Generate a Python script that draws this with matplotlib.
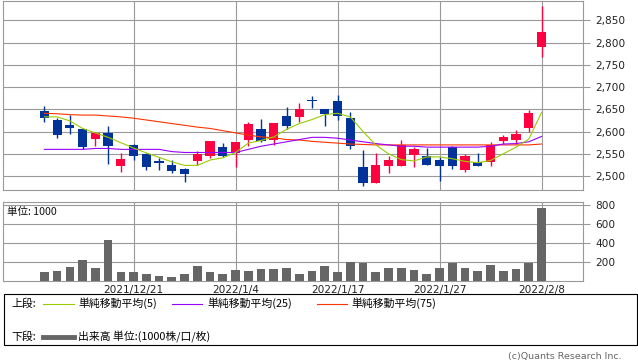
import matplotlib
matplotlib.use("Agg")
import matplotlib.pyplot as plt
from matplotlib.patches import Rectangle
from matplotlib.lines import Line2D

# ---------------- data ----------------
date_ticks = ["2021/12/21", "2022/1/4", "2022/1/17", "2022/1/27", "2022/2/8"]
date_tick_idx = [7, 15, 23, 31, 39]

opens  = [2646, 2626, 2615, 2606, 2584, 2597, 2523, 2570, 2549, 2533,
          2524, 2515, 2534, 2545, 2565, 2551, 2581, 2605, 2582, 2635,
          2632, 2671, 2650, 2669, 2630, 2520, 2484, 2522, 2522, 2547,
          2546, 2535, 2565, 2513, 2532, 2531, 2579, 2582, 2608, 2790]
closes = [2631, 2593, 2609, 2566, 2597, 2568, 2538, 2545, 2521, 2530,
          2512, 2505, 2549, 2578, 2546, 2576, 2617, 2579, 2619, 2613,
          2650, 2669, 2640, 2636, 2567, 2484, 2524, 2535, 2570, 2561,
          2525, 2522, 2522, 2546, 2522, 2570, 2588, 2594, 2641, 2823]
highs  = [2658, 2631, 2637, 2606, 2600, 2612, 2551, 2573, 2552, 2541,
          2535, 2519, 2557, 2578, 2574, 2576, 2621, 2628, 2619, 2655,
          2664, 2680, 2650, 2683, 2643, 2558, 2552, 2545, 2580, 2565,
          2563, 2543, 2567, 2550, 2552, 2576, 2592, 2603, 2648, 2882]
lows   = [2622, 2586, 2595, 2560, 2567, 2528, 2509, 2537, 2513, 2513,
          2506, 2487, 2524, 2540, 2543, 2521, 2568, 2576, 2570, 2606,
          2622, 2653, 2612, 2627, 2561, 2477, 2484, 2507, 2522, 2520,
          2525, 2489, 2516, 2510, 2522, 2522, 2571, 2571, 2598, 2768]
volume = [91, 109, 151, 225, 133, 435, 91, 91, 77, 56,
          46, 77, 161, 98, 77, 119, 109, 130, 130, 140,
          77, 109, 161, 91, 204, 186, 98, 140, 140, 119,
          77, 140, 186, 140, 109, 172, 109, 130, 186, 772]
ma5  = [2633, 2633, 2624, 2607, 2597, 2587, 2575, 2563, 2552, 2542,
        2532, 2524, 2524, 2536, 2541, 2553, 2574, 2580, 2588, 2605,
        2618, 2627, 2638, 2641, 2633, 2600, 2570, 2550, 2537, 2534,
        2543, 2543, 2539, 2533, 2530, 2535, 2550, 2565, 2583, 2643]
ma25 = [2560, 2560, 2560, 2560, 2562, 2562, 2560, 2560, 2560, 2560,
        2555, 2553, 2553, 2553, 2553, 2553, 2560, 2567, 2572, 2577,
        2582, 2587, 2587, 2585, 2581, 2577, 2573, 2570, 2567, 2567,
        2565, 2565, 2565, 2565, 2565, 2567, 2572, 2573, 2577, 2589]
ma75 = [2641, 2640, 2638, 2637, 2637, 2635, 2633, 2630, 2626, 2622,
        2618, 2614, 2610, 2607, 2602, 2597, 2592, 2588, 2586, 2582,
        2581, 2578, 2576, 2574, 2572, 2571, 2570, 2570, 2570, 2570,
        2570, 2570, 2570, 2570, 2570, 2570, 2570, 2570, 2570, 2572]
price_ticks = [2500, 2550, 2600, 2650, 2700, 2750, 2800, 2850]
vol_ticks = [200, 400, 600, 800]

# ---------------- style ----------------
W, H = 638, 362
UP = "#ff0040"
DOWN = "#003399"
C5 = "#99cc00"
C25 = "#9900ff"
C75 = "#ff3300"
GRID = "#999999"
VOL = "#666666"
JP = ["Noto Sans CJK JP", "DejaVu Sans"]
LW = 0.8

fig = plt.figure(figsize=(W / 100, H / 100), dpi=100)


def box(x0, y0, x1, y1):
    return [x0 / W, 1 - y1 / H, (x1 - x0) / W, (y1 - y0) / H]


def style_axes(ax):
    for s in ax.spines.values():
        s.set_color(GRID)
        s.set_linewidth(LW)
    ax.yaxis.tick_right()
    ax.tick_params(axis="y", which="both", direction="out", length=5,
                   width=LW, color=GRID, labelsize=7.6, pad=4,
                   labelcolor="#222222")
    ax.tick_params(axis="x", length=0, labelsize=7.6, labelcolor="#222222")
    ax.set_xlim(-3.22, 42.23)
    ax.set_xticks(date_tick_idx)
    ax.grid(True, color=GRID, linewidth=LW)
    ax.set_axisbelow(True)


x = list(range(len(opens)))

# ---------------- price panel ----------------
ax1 = fig.add_axes(box(3.3, 0.5, 582.7, 190.3))
style_axes(ax1)
ax1.set_ylim(2468, 2894.5)
ax1.set_yticks(price_ticks)
ax1.set_yticklabels([f"{v:,}" for v in price_ticks])
ax1.set_xticklabels([])

for i in x:
    o, c, h, l = opens[i], closes[i], highs[i], lows[i]
    col = UP if c >= o else DOWN
    ax1.vlines(i, l, h, color=col, linewidth=1.0, zorder=3)
    bottom = min(o, c)
    height = max(abs(c - o), 1.5)
    ax1.add_patch(Rectangle((i - 0.36, bottom), 0.72, height,
                            facecolor=col, edgecolor="none", zorder=4))

ax1.plot(x, ma75, color=C75, linewidth=LW, zorder=5)
ax1.plot(x, ma25, color=C25, linewidth=LW, zorder=5)
ax1.plot(x, ma5, color=C5, linewidth=LW, zorder=5)

# ---------------- volume panel ----------------
ax2 = fig.add_axes(box(3.3, 201.7, 582.7, 281.0))
style_axes(ax2)
ax2.set_ylim(0, 835)
ax2.set_yticks(vol_ticks)
ax2.set_yticklabels([str(v) for v in vol_ticks])
ax2.set_xticklabels(date_ticks)
ax2.tick_params(axis="x", pad=3)
ax2.bar(x, volume, width=0.68, color=VOL, zorder=3)
ax2.text(0.007, 0.93, "単位: 1000", transform=ax2.transAxes, fontsize=7.6,
         family=JP, va="top", ha="left", color="#111111", zorder=6)

# ---------------- legend box ----------------
fig.patches.append(Rectangle((3.5 / W, 1 - 345 / H), 633.5 / W, 51 / H,
                             transform=fig.transFigure, fill=False,
                             edgecolor="#000000", linewidth=LW))


def fx(px):
    return px / W


def fy(py):
    return 1 - py / H


row1, row2 = 303.5, 336.5
fig.text(fx(11), fy(row1), "上段:", family=JP, fontsize=7.8, va="center")
fig.text(fx(11), fy(row2), "下段:", family=JP, fontsize=7.8, va="center")
for (x0, x1, tx, col, lab) in [(43, 74, 78, C5, "単純移動平均(5)"),
                               (172, 202, 207, C25, "単純移動平均(25)"),
                               (317, 347, 351, C75, "単純移動平均(75)")]:
    fig.lines.append(Line2D([fx(x0), fx(x1)], [fy(row1), fy(row1)],
                            transform=fig.transFigure, color=col,
                            linewidth=LW))
    fig.text(fx(tx), fy(row1), lab, family=JP, fontsize=7.8, va="center")
fig.lines.append(Line2D([fx(43), fx(74)], [fy(row2), fy(row2)],
                        transform=fig.transFigure, color=VOL, linewidth=3.5))
fig.text(fx(78), fy(row2), "出来高 単位:(1000株/口/枚)", family=JP,
         fontsize=7.8, va="center")

fig.text(fx(622), fy(356), "(c)Quants Research Inc.", fontsize=6.8,
         color="#666666", ha="right", va="center")

fig.savefig("out.png", dpi=100)
